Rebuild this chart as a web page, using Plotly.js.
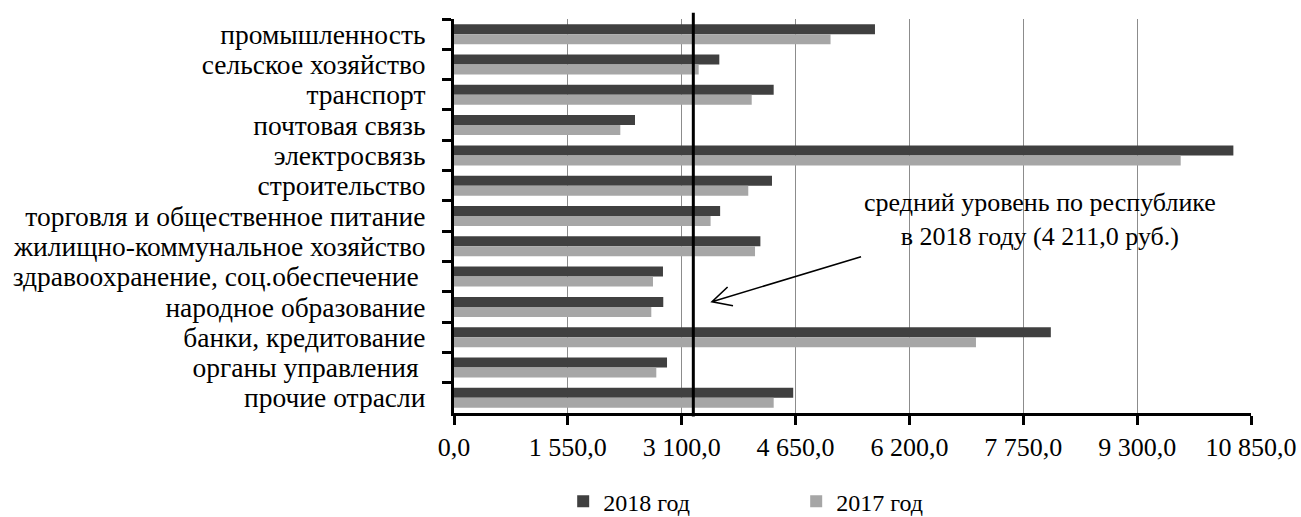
<!DOCTYPE html>
<html>
<head>
<meta charset="utf-8">
<script src="https://cdn.plot.ly/plotly-3.0.1.min.js"></script>
<style>html,body{margin:0;padding:0;background:#fff;}#chart{width:1301px;height:517px;}</style>
</head>
<body>
<div id="chart"></div>
<script>
const categories = [
  'промышленность',
  'сельское хозяйство',
  'транспорт',
  'почтовая связь',
  'электросвязь',
  'строительство',
  'торговля и общественное питание',
  'жилищно-коммунальное хозяйство',
  'здравоохранение, соц.обеспечение\u00a0',
  'народное образование',
  'банки, кредитование',
  'органы управления\u00a0',
  'прочие отрасли'
];
const values2018 = [5731, 3612, 4352, 2464, 10610, 4329, 3623, 4171, 2845, 2849, 8125, 2900, 4618];
const values2017 = [5126, 3331, 4053, 2264, 9893, 4006, 3493, 4098, 2709, 2686, 7106, 2754, 4352];
const seriesNames = ['2018 год', '2017 год'];
const tickValues = [0, 1550, 3100, 4650, 6200, 7750, 9300, 10850];
const tickLabels = ['0,0', '1 550,0', '3 100,0', '4 650,0', '6 200,0', '7 750,0', '9 300,0', '10 850,0'];
const avgLinePosition = 3258;
const noteText = 'средний уровень по республике<br>в 2018 году (4 211,0 руб.)';

const FONT = 'Liberation Serif, Times New Roman, serif';

const traces = [
  {type: 'bar', orientation: 'h', name: seriesNames[0], y: categories, x: values2018,
   marker: {color: '#404040'}, hoverinfo: 'none'},
  {type: 'bar', orientation: 'h', name: seriesNames[1], y: categories, x: values2017,
   marker: {color: '#a6a6a6'}, hoverinfo: 'none'}
];

const layout = {
  width: 1301, height: 517,
  margin: {l: 454, r: 50, t: 19, b: 104, pad: 0, autoexpand: false},
  paper_bgcolor: '#fff', plot_bgcolor: '#fff',
  font: {family: FONT, size: 26, color: '#000'},
  barmode: 'group', bargap: 0.34, bargroupgap: 0,
  showlegend: true,
  legend: {orientation: 'h', x: 0.137, xanchor: 'left', y: -0.225, yanchor: 'middle',
           font: {family: FONT, size: 24, color: '#000'},
           entrywidth: 188, entrywidthmode: 'pixels', traceorder: 'normal', bgcolor: 'rgba(0,0,0,0)'},
  xaxis: {
    range: [0, 10850], tickmode: 'array', tickvals: tickValues, ticktext: tickLabels,
    showgrid: true, gridcolor: '#8c8c8c', gridwidth: 1, zeroline: false,
    showline: true, linecolor: '#000', linewidth: 3,
    ticks: 'outside', ticklen: 9, tickwidth: 3, tickcolor: '#000',
    ticklabelstandoff: 0,
    tickfont: {family: FONT, size: 26, color: '#000'}, fixedrange: true
  },
  yaxis: {
    type: 'category', categoryorder: 'array', categoryarray: categories,
    autorange: 'reversed', tickson: 'boundaries',
    tickmode: 'linear', tick0: 0, dtick: 1,
    showgrid: false, zeroline: false,
    showline: true, linecolor: '#000', linewidth: 3,
    ticks: 'outside', ticklen: 9, tickwidth: 3, tickcolor: '#000',
    ticklabelstandoff: 20,
    tickfont: {family: FONT, size: 27.5, color: '#000'}, fixedrange: true
  },
  shapes: [
    {type: 'line', xref: 'x', yref: 'paper', x0: avgLinePosition, x1: avgLinePosition,
     y0: -0.009, y1: 1.016, line: {color: '#000', width: 3}},
    {type: 'path', xref: 'paper', yref: 'paper',
     path: 'M 0.5107 0.3967 L 0.3237 0.2825 M 0.3433 0.3198 L 0.3237 0.2825 L 0.3501 0.2723',
     line: {color: '#000', width: 1.6}}
  ],
  annotations: [
    {xref: 'paper', yref: 'paper', x: 0.735, y: 0.4906, xanchor: 'center', yanchor: 'middle',
     text: noteText, showarrow: false, align: 'center',
     font: {family: FONT, size: 26, color: '#000'}}
  ]
};

Plotly.newPlot('chart', traces, layout, {displayModeBar: false, staticPlot: true});
</script>
</body>
</html>
